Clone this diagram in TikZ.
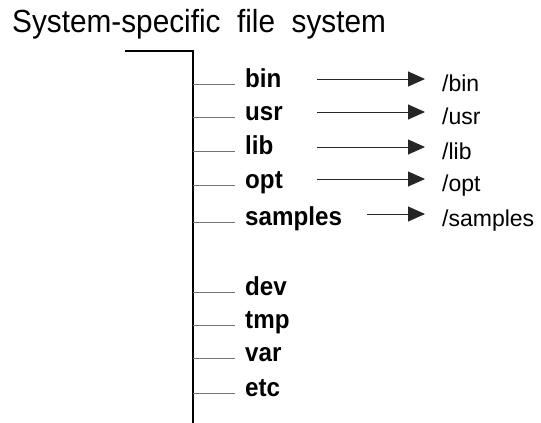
\documentclass[tikz,border=0pt]{standalone}
\usepackage{fontspec}
\setmainfont{Liberation Sans}
\newfontfamily\narrowfont[FakeStretch=0.93]{Liberation Sans}
\usetikzlibrary{arrows.meta}

\tikzset{
  trunk/.style={line width=2pt, black},
  branch/.style={line width=0.9pt, black!55},
  dir/.style={anchor=west, inner xsep=10pt, inner ysep=0pt, text height=11pt, text depth=5pt,
    font=\narrowfont\fontsize{26}{26}\selectfont\bfseries},
  target/.style={anchor=west, inner xsep=17pt, inner ysep=0pt, text height=24pt, text depth=0pt,
    font=\fontsize{23}{23}\selectfont},
  link/.style={line width=0.9pt, black!85, -{Triangle[length=17pt,width=15pt]}}
}

\begin{document}
\begin{tikzpicture}[x=1pt,y=-1pt]
\useasboundingbox (0,0) rectangle (541,423);

\node[anchor=base west, inner sep=0pt, font=\narrowfont\fontsize{32}{32}\selectfont] (title) at (12,32) {System-specific\ \ file\ \ system};

%trunk
\coordinate (top-left) at (125,51);
\coordinate (top) at (193,51);
\coordinate (bottom) at (193,423);
\draw[trunk] (top-left)--(top)--(bottom);

%%%%%%%%%%%%%%%%%%%%%%%%%%%%%%%%%%%%%%%%
%directories
\coordinate (t-bin) at (193,84);
\coordinate (t-usr) at (193,117);
\coordinate (t-lib) at (193,151);
\coordinate (t-opt) at (193,185);
\coordinate (t-samples) at (193,222);
\coordinate (t-dev) at (193,292);
\coordinate (t-tmp) at (193,325);
\coordinate (t-var) at (193,358);
\coordinate (t-etc) at (193,393);

\node[dir] (bin) at (235,84) {bin};
\node[dir] (usr) at (235,117) {usr};
\node[dir] (lib) at (235,151) {lib};
\node[dir] (opt) at (235,185) {opt};
\node[dir] (samples) at (235,222) {samples};
\node[dir] (dev) at (235,292) {dev};
\node[dir] (tmp) at (235,325) {tmp};
\node[dir] (var) at (235,358) {var};
\node[dir] (etc) at (235,393) {etc};

\draw[branch] (t-bin)--(bin.west);
\draw[branch] (t-usr)--(usr.west);
\draw[branch] (t-lib)--(lib.west);
\draw[branch] (t-opt)--(opt.west);
\draw[branch] (t-samples)--(samples.west);
\draw[branch] (t-dev)--(dev.west);
\draw[branch] (t-tmp)--(tmp.west);
\draw[branch] (t-var)--(var.west);
\draw[branch] (t-etc)--(etc.west);

%%%%%%%%%%%%%%%%%%%%%%%%%%%%%%%%%%%%%%%%
%links
\coordinate (s-bin) at (317,79);
\coordinate (s-usr) at (317,112);
\coordinate (s-lib) at (317,147);
\coordinate (s-opt) at (317,179);
\coordinate (s-samples) at (367,214);

\node[target] (p-bin) at (425,79) {/bin};
\node[target] (p-usr) at (425,112) {/usr};
\node[target] (p-lib) at (425,147) {/lib};
\node[target] (p-opt) at (425,179) {/opt};
\node[target] (p-samples) at (425,214) {/samples};

\draw[link] (s-bin)--(p-bin.west);
\draw[link] (s-usr)--(p-usr.west);
\draw[link] (s-lib)--(p-lib.west);
\draw[link] (s-opt)--(p-opt.west);
\draw[link] (s-samples)--(p-samples.west);

\end{tikzpicture}
\end{document}
